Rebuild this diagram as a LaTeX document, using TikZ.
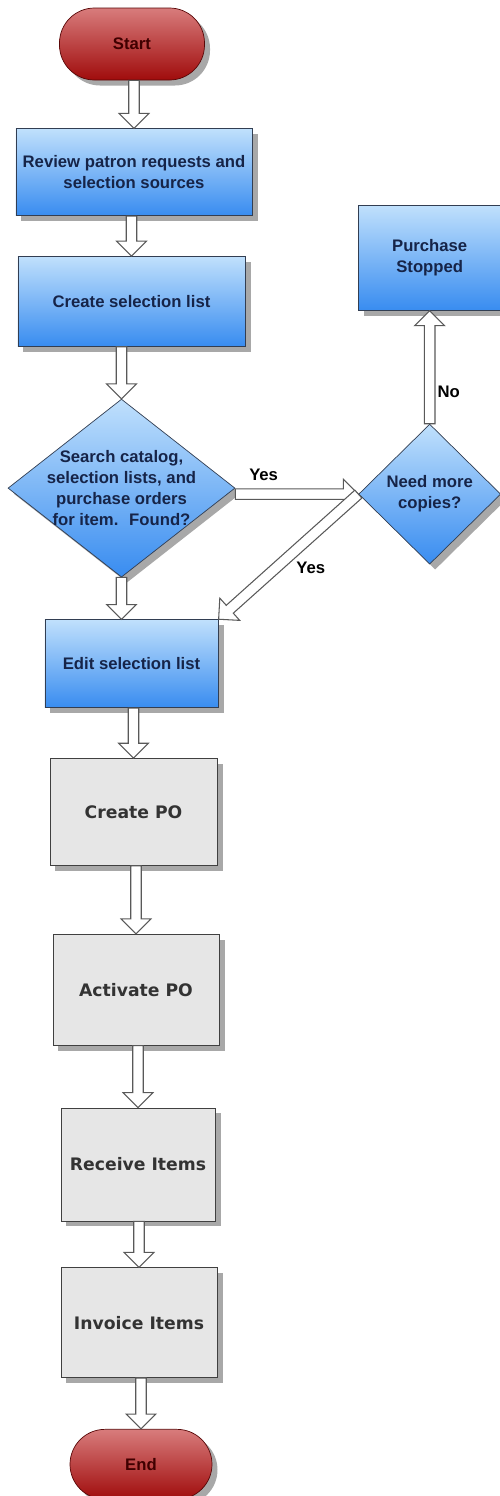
\documentclass[tikz,border=0pt]{standalone}
\usepackage{fontspec}
\setmainfont{Liberation Sans}
\newfontfamily\boxfont{DejaVu Sans}
\usetikzlibrary{positioning,calc,shapes.geometric,shadows}

\definecolor{bluetop}{RGB}{192,224,252}
\definecolor{bluebot}{RGB}{56,140,240}
\definecolor{redtop}{RGB}{216,124,124}
\definecolor{redbot}{RGB}{160,12,12}
\definecolor{greyfill}{RGB}{230,230,230}
\definecolor{shadowgrey}{RGB}{168,168,168}
\definecolor{navytext}{RGB}{22,36,72}
\definecolor{edgeblue}{RGB}{50,62,82}

\begin{document}
\begin{tikzpicture}[
    every node/.style={font=\fontsize{9.5}{11.7}\selectfont\bfseries},
    dropsh/.style={drop shadow={shadow xshift=0.11cm, shadow yshift=-0.11cm, fill=shadowgrey, opacity=1}},
    boxsize/.style 2 args={minimum width=#1, minimum height=#2},
    term/.style={rectangle, rounded corners=0.7cm, draw=redbot!55!black, top color=redtop, bottom color=redbot, text=red!25!black, dropsh},
    bluebox/.style={rectangle, draw=edgeblue, top color=bluetop, bottom color=bluebot, text=navytext, align=center, dropsh},
    greybox/.style={rectangle, draw=black!75, fill=greyfill, text=black!80, dropsh, font=\boxfont\fontsize{9.8}{11.5}\selectfont\bfseries},
    decision/.style={diamond, draw=edgeblue, top color=bluetop, bottom color=bluebot, inner sep=0pt, dropsh},
    dtext/.style={align=center, text=navytext, font=\fontsize{9.5}{12}\selectfont\bfseries},
    lbl/.style={text=black},
    fatarr/.style={draw=black!65, fill=white, line width=0.6pt,
        to path={let \p1=(\tikztostart), \p2=(\tikztotarget),
            \n1={atan2(\y2-\y1,\x2-\x1)}, \n2={veclen(\x2-\x1,\y2-\y1)} in
            {[shift={(\p1)}, rotate=\n1]
            (0pt,-3pt) -- ({\n2-8.5pt},-3pt) -- ({\n2-8.5pt},-8.5pt) -- ({\n2*1pt},0pt)
            -- ({\n2-8.5pt},8.5pt) -- ({\n2-8.5pt},3pt) -- (0pt,3pt) -- cycle}}},
]
\useasboundingbox (0,0) rectangle (10,-29.92);

% main column
\node[term, boxsize={2.9cm}{1.44cm}] (start) at (2.64,-0.88) {Start};
\node[bluebox, boxsize={4.72cm}{1.74cm}, below=0.96cm of start, xshift=0.04cm] (review) {Review patron requests and\\selection sources};
\node[bluebox, boxsize={4.54cm}{1.8cm}, below=0.8cm of review, xshift=-0.05cm] (create) {Create selection list};
\node[decision, boxsize={4.54cm}{3.56cm}, below=1.04cm of create, xshift=-0.2cm] (search) {};
\node[dtext] at (search) {Search catalog,\\selection lists, and\\purchase orders\\for item.~ Found?};
\node[bluebox, boxsize={3.46cm}{1.76cm}, below=0.84cm of search, xshift=0.2cm] (edit) {Edit selection list};
\node[greybox, boxsize={3.34cm}{2.14cm}, below=1cm of edit, xshift=0.04cm] (createpo) {Create PO};
\node[greybox, boxsize={3.32cm}{2.22cm}, below=1.36cm of createpo, xshift=0.05cm] (activate) {Activate PO};
\node[greybox, boxsize={3.08cm}{2.26cm}, below=1.24cm of activate, xshift=0.04cm] (receive) {Receive Items};
\node[greybox, boxsize={3.12cm}{2.2cm}, below=0.92cm of receive, xshift=0.02cm] (invoice) {Invoice Items};
\node[term, boxsize={2.84cm}{1.4cm}, below=1.02cm of invoice, xshift=0.04cm] (finish) {End};

% side branch
\node[decision, boxsize={2.84cm}{2.8cm}, right=2.46cm of search, yshift=-0.12cm] (need) {};
\node[dtext] at (need) {Need more\\copies?};
\node[bluebox, boxsize={2.84cm}{2.1cm}, above=2.26cm of need] (stopped) {Purchase\\Stopped};

\draw[fatarr] (start.south -| review.north) to (review.north);
\draw[fatarr] (review.south -| create.north) to (create.north);
\draw[fatarr] (create.south -| search.north) to (search.north);
\draw[fatarr] (search.south) to (search.south |- edit.north);
\draw[fatarr] (edit.south -| createpo.north) to (createpo.north);
\draw[fatarr] (createpo.south -| activate.north) to (activate.north);
\draw[fatarr] (activate.south -| receive.north) to (receive.north);
\draw[fatarr] (receive.south -| invoice.north) to (invoice.north);
\draw[fatarr] (invoice.south -| finish.north) to (finish.north);
\draw[fatarr] (search.east |- need.west) to (need.west);
\draw[fatarr] (need.north) to (need.north |- stopped.south);
\draw[fatarr] (need.west) to (edit.north east);

\node[lbl] at ($(search.east)!0.23!(need.west)+(0,0.3)$) {Yes};
\node[lbl] at ($(need.north)!0.28!(stopped.south)+(0.38,0)$) {No};
\node[lbl] at ($(need.west)!0.34!(edit.north east)+(0,-0.62)$) {Yes};
\end{tikzpicture}
\end{document}
